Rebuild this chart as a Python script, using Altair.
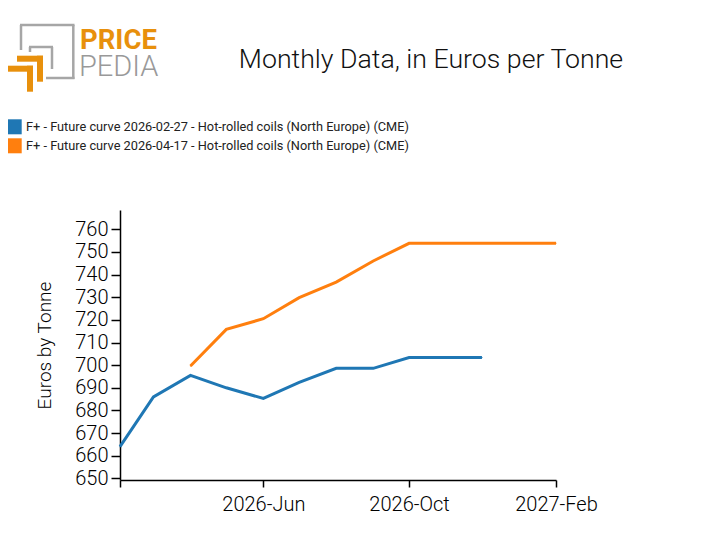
import altair as alt
import pandas as pd

# ---- data ----
months_blue = ["2026-02-01", "2026-03-01", "2026-04-01", "2026-05-01", "2026-06-01",
               "2026-07-01", "2026-08-01", "2026-09-01", "2026-10-01", "2026-11-01",
               "2026-12-01"]
values_blue = [664, 686, 695.5, 690, 685.3, 692.4, 698.6, 698.6, 703.4, 703.4, 703.4]

months_orange = ["2026-04-01", "2026-05-01", "2026-06-01", "2026-07-01", "2026-08-01",
                 "2026-09-01", "2026-10-01", "2026-11-01", "2026-12-01", "2027-01-01",
                 "2027-02-01"]
values_orange = [699.6, 715.8, 720.5, 729.8, 736.7, 746, 753.8, 753.8, 753.8, 753.8, 753.8]

series_names = [
    "F+ - Future curve 2026-02-27 - Hot-rolled coils (North Europe) (CME)",
    "F+ - Future curve 2026-04-17 - Hot-rolled coils (North Europe) (CME)",
]
series_colors = ["#1f77b4", "#ff7f0e"]
y_ticks = [650, 660, 670, 680, 690, 700, 710, 720, 730, 740, 750, 760]

df = pd.concat([
    pd.DataFrame({"date": months_blue, "value": values_blue, "series": series_names[0]}),
    pd.DataFrame({"date": months_orange, "value": values_orange, "series": series_names[1]}),
])

FONT = "Roboto"
OX, OY = 120, 210  # plot origin on the page
W, H = 436, 270

x_enc = alt.X("date:T",
              scale=alt.Scale(type="utc",
                              domain=[alt.DateTime(year=2026, month=2, date=1, utc=True),
                                      alt.DateTime(year=2027, month=2, date=1, utc=True)]),
              axis=alt.Axis(title=None,
                            values=[alt.DateTime(year=2026, month=2, date=1, utc=True),
                                    alt.DateTime(year=2026, month=6, date=1, utc=True),
                                    alt.DateTime(year=2026, month=10, date=1, utc=True),
                                    alt.DateTime(year=2027, month=2, date=1, utc=True)],
                            labelExpr="datum.index == 0 ? '' : utcFormat(datum.value, '%Y-%b')",
                            grid=False, tickSize=7, labelPadding=7, labelFontSize=20,
                            labelFont=FONT, labelColor="#000", domainColor="#000",
                            tickColor="#000", domainWidth=1.5, tickWidth=1.5,
                            labelFontWeight=300, labelFlush=False, labelOverlap=False))
y_enc = alt.Y("value:Q",
              scale=alt.Scale(domain=[649.3, 768.5], nice=False, zero=False),
              axis=alt.Axis(title="Euros by Tonne", values=y_ticks, grid=False,
                            tickSize=9, labelPadding=3, labelFontSize=20, labelFont=FONT,
                            labelColor="#000", domainColor="#000", tickColor="#000",
                            domainWidth=1.5, tickWidth=1.5, labelFontWeight=300,
                            titleFont=FONT, titleFontSize=19, titleFontWeight=300,
                            titleColor="#000", titlePadding=20, labelOverlap=False))

# tiny filled squares hidden under the lines; they only carry the filled-square legend
legend_layer = alt.Chart(df).transform_calculate(
    legend_series="datum.series"
).mark_square(size=1, opacity=1, strokeWidth=0).encode(
    x=x_enc, y=y_enc,
    fill=alt.Fill("legend_series:N",
                  scale=alt.Scale(domain=series_names, range=series_colors),
                  legend=alt.Legend(title=None, orient="none",
                                    legendX=6.7 - OX, legendY=119.3 - OY,
                                    symbolType="square", symbolSize=225,
                                    symbolStrokeWidth=0, symbolOpacity=1,
                                    labelFont=FONT, labelFontSize=12.75,
                                    labelColor="#222", labelLimit=600,
                                    rowPadding=4, padding=0, labelOffset=4.3)),
)

lines = alt.Chart(df).mark_line(strokeWidth=3).encode(
    x=x_enc, y=y_enc,
    stroke=alt.Stroke("series:N",
                      scale=alt.Scale(domain=series_names, range=series_colors),
                      legend=None),
)

one = pd.DataFrame({"a": [0]})


def seg(x1, y1, x2, y2, color, w):
    return alt.Chart(one).mark_rule(color=color, strokeWidth=w, strokeCap="butt").encode(
        x=alt.value(x1 - OX), y=alt.value(y1 - OY),
        x2=alt.value(x2 - OX), y2=alt.value(y2 - OY))


def txt(text, x, y, size, weight, color, align="left"):
    return alt.Chart(one).mark_text(text=text, font=FONT, fontSize=size, fontWeight=weight,
                                    color=color, align=align, baseline="alphabetic").encode(
        x=alt.value(x - OX), y=alt.value(y - OY))


GREY = "#a6a6a6"
ORANGE = "#e8900c"
logo = [
    seg(20, 25, 74.5, 25, GREY, 2.5),
    seg(73.3, 25, 73.3, 79, GREY, 2.5),
    seg(21, 25, 21, 50, GREY, 2.5),
    seg(46, 78, 74.5, 78, GREY, 2.5),
    seg(29, 47, 53, 47, GREY, 2.5),
    seg(52, 47, 52, 69, GREY, 2.5),
    seg(30, 47, 30, 52, GREY, 2.5),
    seg(17, 58.7, 43, 58.7, ORANGE, 6),
    seg(40, 55.7, 40, 81.7, ORANGE, 6),
    seg(8, 68.7, 33, 68.7, ORANGE, 6),
    seg(30, 65.7, 30, 91.7, ORANGE, 6),
    txt("PRICE", 80, 48.5, 27.5, 700, ORANGE),
    txt("PEDIA", 79, 76, 29, 300, "#999999"),
]

title = txt("Monthly Data, in Euros per Tonne", 431, 68, 26.7, 300, "#111", align="center")

chart = alt.layer(legend_layer, lines, title, *logo).properties(
    width=W, height=H,
    autosize=alt.AutoSizeParams(type="none"),
    padding={"left": OX - 8, "top": OY - 8, "right": 140, "bottom": 60},
).configure_view(stroke=None)

chart.save("out.html", embed_options={"renderer": "svg", "actions": False})
